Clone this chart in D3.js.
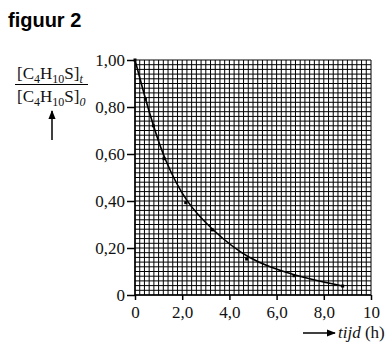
<!DOCTYPE html>
<html><head><meta charset="utf-8">
<script src="https://cdn.jsdelivr.net/npm/d3@7"></script>
<style>body{margin:0;background:#fff}svg{display:block}</style>
</head><body>
<script>
const timeValues = [0, 0.44, 0.78, 1.23, 2.15, 3.28, 4.73, 6.74, 8.8];
const ratioValues = [1.00, 0.834, 0.72, 0.58, 0.393, 0.277, 0.153, 0.082, 0.038];
const xTickValues = [0, 2, 4, 6, 8, 10];
const xTickLabels = ["0", "2,0", "4,0", "6,0", "8,0", "10"];
const yTickValues = [0, 0.2, 0.4, 0.6, 0.8, 1.0];
const yTickLabels = ["0", "0,20", "0,40", "0,60", "0,80", "1,00"];

const W = 392, H = 356;
const svg = d3.select("body").append("svg").attr("width", W).attr("height", H);
const x = d3.scaleLinear().domain([0, 10]).range([135, 371]);
const y = d3.scaleLinear().domain([0, 1]).range([295, 60]);
const serif = "'Liberation Serif', 'Times New Roman', serif";

// grid
const g = svg.append("g");
d3.range(0, 51).forEach(i => {
  const v = i * 0.2;
  g.append("line").attr("x1", x(v)).attr("x2", x(v)).attr("y1", y(0)).attr("y2", y(1))
    .attr("stroke", "#000").attr("stroke-width", 1);
  const w = i * 0.02;
  g.append("line").attr("x1", x(0)).attr("x2", x(10)).attr("y1", y(w)).attr("y2", y(w))
    .attr("stroke", "#000").attr("stroke-width", 1);
});

// axes
const xAxis = d3.axisBottom(x).tickValues(xTickValues).tickSize(5).tickPadding(6)
  .tickFormat((d, i) => xTickLabels[i]);
const yAxis = d3.axisLeft(y).tickValues(yTickValues).tickSize(8).tickPadding(2)
  .tickFormat((d, i) => yTickLabels[i]);
const gx = svg.append("g").attr("transform", `translate(0,${y(0)})`).call(xAxis);
const gy = svg.append("g").attr("transform", `translate(${x(0)},0)`).call(yAxis);
[gx, gy].forEach(a => {
  a.select(".domain").attr("stroke", "#000").attr("stroke-width", 1.5);
  a.selectAll(".tick line").attr("stroke", "#000").attr("stroke-width", 1.5);
  a.selectAll(".tick text").attr("fill", "#111").style("font-family", serif).style("font-size", "17px");
});
gx.select(".domain").attr("d", `M${x(0)},0H${x(10)}`);
gy.select(".domain").attr("d", `M0,${y(0)}V${y(1)}`);

// curve
const pts = timeValues.map((t, i) => [t, ratioValues[i]]);
svg.append("path").datum(pts)
  .attr("fill", "none").attr("stroke", "#000").attr("stroke-width", 1.6)
  .attr("d", d3.line().x(d => x(d[0])).y(d => y(d[1])).curve(d3.curveBasis));
svg.append("g").selectAll("rect").data(pts).join("rect")
  .attr("x", d => x(d[0]) - 1.5).attr("y", d => y(d[1]) - 1.5)
  .attr("width", 3).attr("height", 3).attr("fill", "#000");

// title
svg.append("text").attr("x", 8).attr("y", 27).text("figuur 2")
  .style("font-family", "'Liberation Sans', Arial, sans-serif").style("font-weight", "bold").style("font-size", "20px").attr("fill", "#000");

// y label fraction
function formula(yb, sub) {
  const t = svg.append("text").attr("x", 17).attr("y", yb)
    .style("font-family", serif).style("font-size", "17px").attr("fill", "#111");
  t.append("tspan").text("[C");
  t.append("tspan").text("4").attr("dy", 4).style("font-size", "12px");
  t.append("tspan").text("H").attr("dy", -4);
  t.append("tspan").text("10").attr("dy", 4).style("font-size", "12px");
  t.append("tspan").text("S]").attr("dy", -4);
  t.append("tspan").text(sub).attr("dy", 4).style("font-size", "12px").style("font-style", "italic");
}
formula(79, "t");
svg.append("line").attr("x1", 15).attr("x2", 88).attr("y1", 84.5).attr("y2", 84.5).attr("stroke", "#000").attr("stroke-width", 1);
formula(102, "0");

// arrows
svg.append("defs").append("marker").attr("id", "ah").attr("viewBox", "0 0 10 10")
  .attr("refX", 9).attr("refY", 5).attr("markerWidth", 9).attr("markerHeight", 9)
  .attr("markerUnits", "userSpaceOnUse").attr("orient", "auto")
  .append("path").attr("d", "M0,1L10,5L0,9Z").attr("fill", "#000");
svg.append("line").attr("x1", 52).attr("y1", 140).attr("x2", 52).attr("y2", 111)
  .attr("stroke", "#000").attr("stroke-width", 1.5).attr("marker-end", "url(#ah)");
svg.append("line").attr("x1", 303).attr("y1", 333).attr("x2", 335).attr("y2", 333)
  .attr("stroke", "#000").attr("stroke-width", 1.5).attr("marker-end", "url(#ah)");

const xl = svg.append("text").attr("x", 338).attr("y", 338)
  .style("font-family", serif).style("font-size", "17px").attr("fill", "#111");
xl.append("tspan").text("tijd").style("font-style", "italic");
xl.append("tspan").text(" (h)");
</script>
</body></html>
